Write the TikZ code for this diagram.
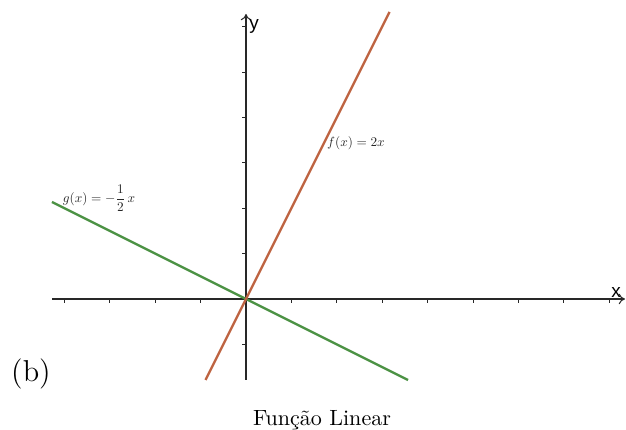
\documentclass[tikz,border=0pt]{standalone}
\usepackage{fontspec}
\usepackage{graphicx}
\usetikzlibrary{arrows.meta}
\newfontfamily\axfont{Liberation Sans}
\definecolor{fcol}{RGB}{190,100,66}
\definecolor{gcol}{RGB}{76,146,68}
\definecolor{axcol}{RGB}{40,40,40}
\newcommand{\lbl}[1]{\scalebox{0.63}{#1}}
\begin{document}
\begin{tikzpicture}[x=0.476pt,y=-0.476pt,
  axis/.style={draw=axcol,line width=0.5pt},
  tick/.style={draw=axcol,line width=0.4pt},
  fline/.style={draw=fcol,line width=1.1pt},
  gline/.style={draw=gcol,line width=1.1pt},
  axlab/.style={inner sep=0pt,font=\axfont\small},
  flabel/.style={inner sep=0pt,text=black!85}]
\useasboundingbox (0,0) rectangle (626,430);
\begin{scope}
\clip (0,0) rectangle (626,430);
% origin and unit
\coordinate (O) at (246,299);
% axes
\coordinate (xl) at (52,299);
\coordinate (xr) at (625,299);
\coordinate (yb) at (246,380);
\coordinate (yt) at (246,14);
\draw[axis,-{To[length=3pt,width=5pt]}] (xl) -- (xr);
\draw[axis,-{To[length=3pt,width=5pt]}] (yb) -- (yt);
% ticks
\foreach \k in {-4,-3,-2,-1,1,2,3,4,5,6,7,8}
  \draw[tick] (246+45.4*\k,299) -- ++(0,4);
\foreach \k in {-1,1,2,3,4,5,6}
  \draw[tick] (246,299-45.4*\k) -- ++(-4,0);
% lines
\coordinate (fa) at (205.5,380);
\coordinate (fb) at (389.5,12);
\coordinate (ga) at (52,202);
\coordinate (gb) at (408,380);
\draw[gline] (ga) -- (gb);
\draw[fline] (fa) -- (fb);
\end{scope}
% labels
\node[axlab] (ylab) at (254,26) {y};
\node[axlab] (xlab) at (616,293) {x};
\node[flabel] (flab) at (356,143) {\lbl{$f(x)=2x$}};
\node[flabel] (glab) at (99,198) {\lbl{$\displaystyle g(x)=-\frac{1}{2}\,x$}};
\node[inner sep=0pt,font=\Large] (b) at (31,374) {(b)};
\node[inner sep=0pt,font=\fontsize{10.5}{12}\selectfont] (cap) at (322,420) {Função Linear};
\end{tikzpicture}
\end{document}
